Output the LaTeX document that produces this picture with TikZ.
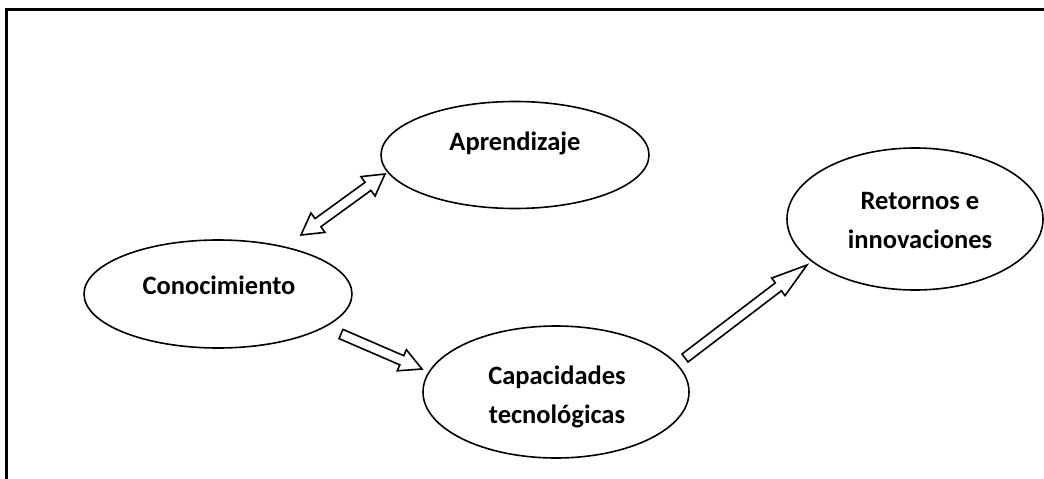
\documentclass[tikz,border=0pt]{standalone}
\usepackage{fontspec}
\setmainfont{Carlito}
\usetikzlibrary{calc,shapes.geometric}
\tikzset{
  ell/.style={draw, ellipse, line width=1.6pt, inner sep=0pt},
  lab/.style={font=\fontsize{26.5}{39}\selectfont\bfseries, align=center, inner sep=0pt},
  arrline/.style={draw, line width=1.6pt, line join=miter, fill=white},
  frame/.style={line width=3pt}
}
\newcommand\blockarr[5]{%
  \coordinate (ba) at ($(#2)!#5!(#1)$);
  \draw[arrline] ($(#1)!#3!90:(#2)$) -- ($(ba)!#3!90:(#2)$) -- ($(ba)!#4!90:(#2)$) -- (#2)
    -- ($(ba)!#4!-90:(#2)$) -- ($(ba)!#3!-90:(#2)$) -- ($(#1)!#3!-90:(#2)$) -- cycle;
}
\newcommand\dblarr[5]{%
  \coordinate (bb1) at ($(#1)!#5!(#2)$);
  \coordinate (bb2) at ($(#2)!#5!(#1)$);
  \draw[arrline] (#1) -- ($(bb1)!#4!90:(#2)$) -- ($(bb1)!#3!90:(#2)$) -- ($(bb2)!#3!90:(#2)$)
    -- ($(bb2)!#4!90:(#2)$) -- (#2) -- ($(bb2)!#4!-90:(#2)$) -- ($(bb2)!#3!-90:(#2)$)
    -- ($(bb1)!#3!-90:(#2)$) -- ($(bb1)!#4!-90:(#2)$) -- cycle;
}
\begin{document}
\begin{tikzpicture}[x=1pt,y=-1pt]
\useasboundingbox (0,0) rectangle (1044,479);
% frame
\draw[frame] (6,479) -- (6,9) -- (1044,9);
% ellipses
\node[ell, minimum width=268pt, minimum height=107pt] (apr) at (515,155) {};
\node[lab] (aprt) at (515,143) {Aprendizaje};
\node[ell, minimum width=268pt, minimum height=108pt] (con) at (218,294) {};
\node[lab] (cont) at (219,285) {Conocimiento};
\node[ell, minimum width=266pt, minimum height=132pt] (cap) at (556,392) {};
\node[lab] (capt) at (557,397) {Capacidades\\tecnológicas};
\node[ell, minimum width=256pt, minimum height=142pt] (ret) at (915,219) {};
\node[lab] (rett) at (920,221) {Retornos e\\innovaciones};
% connector end points
\coordinate (d1) at (301,235);
\coordinate (d2) at (385,174);
\coordinate (k1) at (341,334);
\coordinate (k2) at (422,369);
\coordinate (r1) at (685,358);
\coordinate (r2) at (807,265);
% block arrows
\dblarr{d1}{d2}{5pt}{12pt}{21pt}
\blockarr{k1}{k2}{5pt}{11.5pt}{22pt}
\blockarr{r1}{r2}{5pt}{11pt}{36pt}
\end{tikzpicture}
\end{document}
